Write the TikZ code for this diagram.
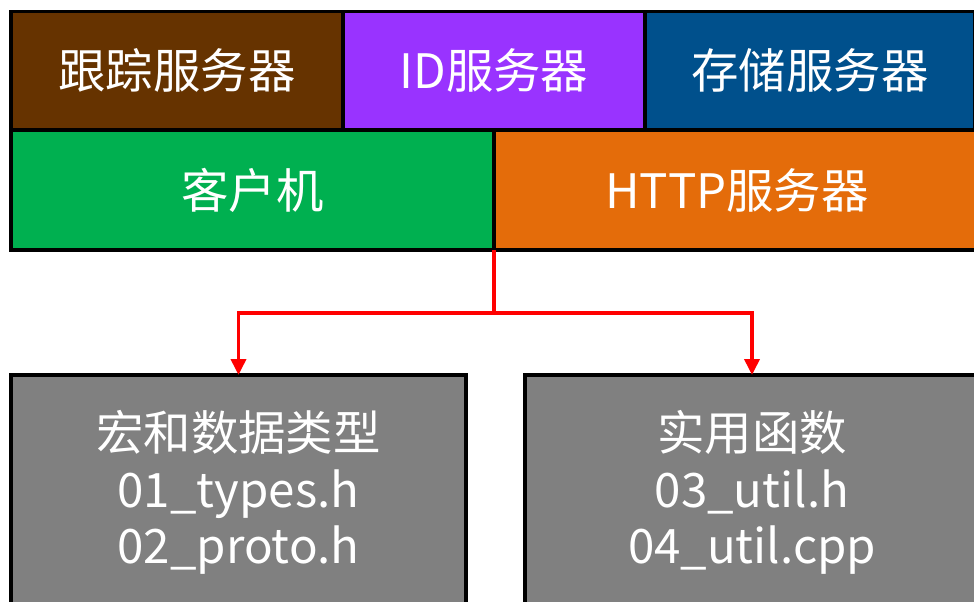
\documentclass[tikz,border=0pt]{standalone}
\usepackage{fontspec}
\usepackage{tikz}
\usetikzlibrary{arrows.meta,positioning}
\newfontfamily\cjk{Noto Sans CJK SC}
\definecolor{trkbrown}{HTML}{663300}
\definecolor{idpurple}{HTML}{9933FF}
\definecolor{stoblue}{HTML}{00508C}
\definecolor{cligreen}{HTML}{00B050}
\definecolor{httporange}{HTML}{E46C0A}
\definecolor{libgray}{HTML}{808080}
\tikzset{
    block/.style = {draw=black, line width=1.9pt, rectangle, inner sep=0pt, outer sep=0pt,
                    text=white, align=center, font=\cjk\fontsize{27}{32}\selectfont},
    server/.style = {block, minimum height=2.37cm},
    module/.style = {block, fill=libgray, minimum height=4.7cm, anchor=north west},
    link/.style = {draw=red, line width=2.1pt},
}

\begin{document}
\begin{tikzpicture}
				    \useasboundingbox (0,0) rectangle (19.48,-12.04);
				    \clip (0,0) rectangle (19.48,-12.04);

				    % Server row
				    \node[server, fill=trkbrown, minimum width=6.64cm, anchor=north west] (tracker) at (0.22,-0.23) {跟踪服务器};
				    \node[server, fill=idpurple, minimum width=6.04cm, right=0pt of tracker] (idsrv) {ID服务器};
				    \node[server, fill=stoblue, minimum width=6.6cm, right=0pt of idsrv] (storage) {存储服务器};

				    % Client and HTTP row
				    \node[server, fill=cligreen, minimum width=9.66cm, minimum height=2.4cm, anchor=north west] (client) at (tracker.south west) {客户机};
				    \node[server, fill=httporange, minimum width=9.72cm, minimum height=2.4cm, right=0pt of client] (http) {HTTP服务器};

				    % Source modules
				    \node[module, minimum width=9.1cm] (types) at (0.22,-7.5) {宏和数据类型\\01\_types.h\\02\_proto.h};
				    \node[module, minimum width=9.08cm] (util) at (10.5,-7.5) {实用函数\\03\_util.h\\04\_util.cpp};

				    % Connections
				    \coordinate[below=1.26cm of http.south west] (split);
				    \draw[link] (http.south west) -- (split);
				    \draw[link, -{Triangle[length=0.32cm, width=0.3cm]}] (split) -| (types.north);
				    \draw[link, -{Triangle[length=0.32cm, width=0.3cm]}] (split) -| (util.north);
				\end{tikzpicture}
\end{document}
